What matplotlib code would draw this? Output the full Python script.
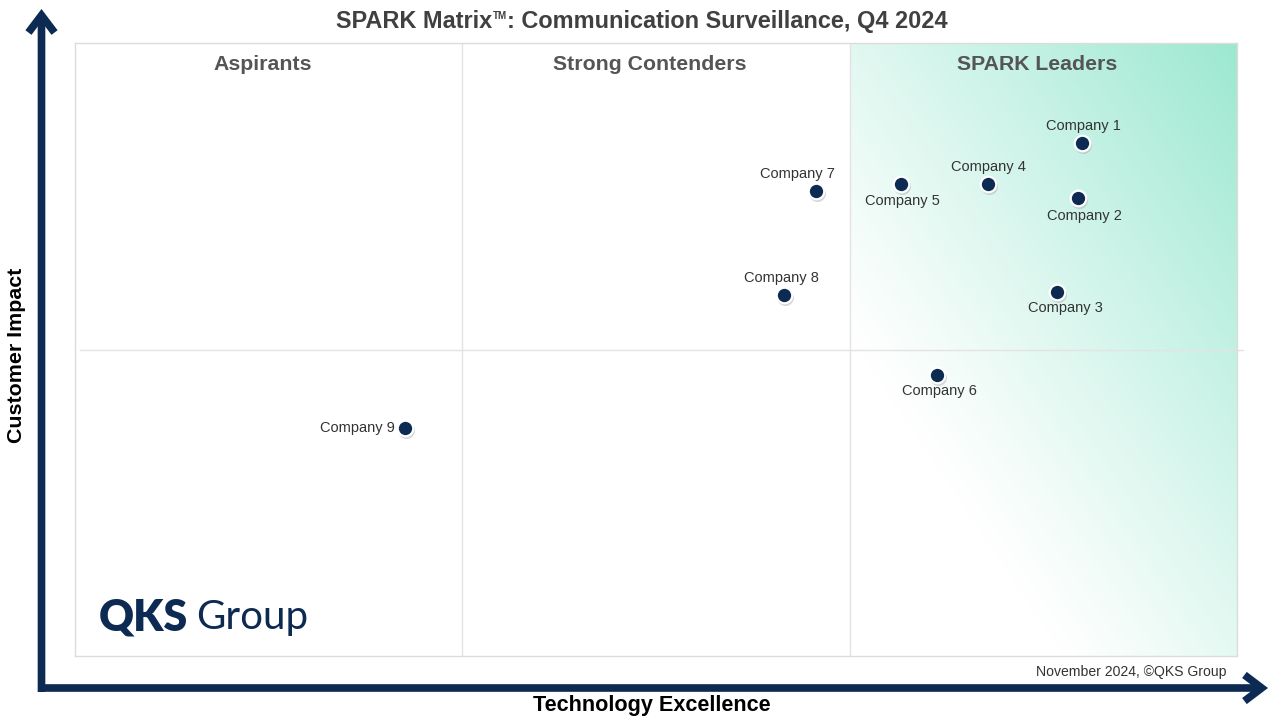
import numpy as np
import matplotlib.pyplot as plt
from matplotlib.patches import FancyArrowPatch
from matplotlib.colors import to_rgb
import matplotlib.transforms as mtransforms

# --- data (Technology Excellence, Customer Impact) ------------------------
companies = ["Company 1", "Company 2", "Company 3", "Company 4", "Company 5",
             "Company 6", "Company 7", "Company 8", "Company 9"]
tech_excellence = [2.60, 2.59, 2.535, 2.357, 2.133, 2.226, 1.913, 1.830, 0.852]
customer_impact = [1.674, 1.494, 1.188, 1.540, 1.540, 0.917, 1.517, 1.178, 0.744]

quadrants = ["Aspirants", "Strong Contenders", "SPARK Leaders"]

# label offset (pixels) relative to the dot, plus alignment
label_offsets = {
    "Company 1": (1, 17, "center"),
    "Company 2": (6, -18, "center"),
    "Company 3": (9, -16, "center"),
    "Company 4": (0, 17, "center"),
    "Company 5": (1, -17, "center"),
    "Company 6": (2, -16, "center"),
    "Company 7": (-19, 17, "center"),
    "Company 8": (-2, 17, "center"),
    "Company 9": (-10, 0, "right"),
}

NAVY = "#0c2a52"
FONT = "Liberation Sans"
plt.rcParams["font.family"] = [FONT, "DejaVu Sans"]

W, H = 1280, 720
fig = plt.figure(figsize=(12.8, 7.2), dpi=100)
renderer = fig.canvas.get_renderer()

# plot box in pixel terms
box_l, box_r, box_t, box_b = 75, 1237, 43, 656
ax = fig.add_axes([box_l / W, 1 - box_b / H, (box_r - box_l) / W, (box_b - box_t) / H])
ax.set_xlim(0, 3)
ax.set_ylim(0, 2)
ax.set_xticks([])
ax.set_yticks([])
for s in ax.spines.values():
    s.set_color("#dcdcdc")
    s.set_linewidth(1.0)

# --- leader quadrant gradient (white lower-left -> mint upper-right) ---------
qw, qh = (box_r - box_l) / 3, (box_b - box_t)
n = 300
u, v = np.meshgrid(np.linspace(0, 1, n), np.linspace(0, 1, n))
s_px = 1.5 * u * qw + v * qh
t = np.clip((s_px - 320) / (1.5 * qw + qh - 320), 0, 1) ** 1.1
white = np.array([1.0, 1.0, 1.0])
mint = np.array(to_rgb("#9ce8d1"))
img = white[None, None, :] * (1 - t[..., None]) + mint[None, None, :] * t[..., None]
ax.imshow(img, extent=[2, 3, 0, 2], origin="lower", aspect="auto", zorder=0,
          interpolation="bilinear")

# --- dividers ----------------------------------------------------------------
for xv in (1, 2):
    ax.axvline(xv, color="#e3e3e3", lw=1.0, zorder=1)
ax.plot([0.013, 3.016], [1, 1], color="#e3e3e3", lw=1.0, zorder=1, clip_on=False)

for i, q in enumerate(quadrants):
    ax.annotate(q, (i + 0.5, 1.93), xytext=(-6, 0), textcoords="offset pixels",
                ha="center", va="center", fontsize=15.3, fontweight="bold",
                color="#555555", zorder=3)

# --- points ------------------------------------------------------------------
shadow = mtransforms.offset_copy(ax.transData, fig=fig, x=0.8, y=-2.0, units="dots")
ax.scatter(tech_excellence, customer_impact, s=150, color="#b0b5bf", alpha=0.55,
           linewidths=0, transform=shadow, zorder=4)
ax.scatter(tech_excellence, customer_impact, s=125, color=NAVY,
           edgecolors="white", linewidths=1.6, zorder=5)

for name, xv, yv in zip(companies, tech_excellence, customer_impact):
    dx, dy, ha = label_offsets[name]
    ax.annotate(name, (xv, yv), xytext=(dx, dy), textcoords="offset pixels",
                ha=ha, va="center", fontsize=10.5, color="#333333", zorder=6)

# --- logo --------------------------------------------------------------------
logo_y = 1 - 617 / H
fig.text(99 / W, logo_y, "QKS", fontsize=31, fontweight="heavy", color=NAVY,
         family=["Lato", FONT], va="center", ha="left")
fig.text(196 / W, logo_y, "Group", fontsize=29, fontweight="normal", color=NAVY,
         family=["Lato", FONT], va="center", ha="left")

# --- title with small superscript TM, centred as a whole ---------------------
title_parts = ["SPARK Matrix", "TM", ": Communication Surveillance, Q4 2024"]
title_y = 1 - 28 / H
kw = dict(fontweight="bold", color="#404040", va="baseline", ha="left")
pieces = [
    fig.text(0, title_y, title_parts[0], fontsize=16.9, **kw),
    fig.text(0, title_y + 9 / H, title_parts[1], fontsize=7, **kw),
    fig.text(0, title_y, title_parts[2], fontsize=16.9, **kw),
]
widths = [p.get_window_extent(renderer).width for p in pieces]
x = 642 - sum(widths) / 2
for p, w in zip(pieces, widths):
    p.set_x(x / W)
    x += w

fig.text(1226 / W, 1 - 672 / H, "November 2024, \u00a9QKS Group", ha="right",
         va="center", fontsize=10.1, color="#333333")
fig.text(652 / W, 1 - 705 / H, "Technology Excellence", ha="center", va="center",
         fontsize=15.6, fontweight="bold", color="black")
fig.text(17 / W, 1 - 355 / H, "Customer Impact", ha="center", va="center",
         rotation=90, fontsize=15.4, fontweight="bold", color="black")

# --- axis arrows -------------------------------------------------------------
arrow_style = "->,head_length=0.62,head_width=0.47"
fig.patches.append(FancyArrowPatch((38 / W, 1 - 688 / H), (1268 / W, 1 - 688 / H),
                                   arrowstyle=arrow_style, mutation_scale=20,
                                   transform=fig.transFigure, color=NAVY, lw=5.5,
                                   shrinkA=0, shrinkB=0, capstyle="butt",
                                   joinstyle="miter"))
fig.patches.append(FancyArrowPatch((41.5 / W, 1 - 692 / H), (41.5 / W, 1 - 9 / H),
                                   arrowstyle=arrow_style, mutation_scale=20,
                                   transform=fig.transFigure, color=NAVY, lw=5.5,
                                   shrinkA=0, shrinkB=0, capstyle="butt",
                                   joinstyle="miter"))

fig.savefig("out.png", dpi=100)
